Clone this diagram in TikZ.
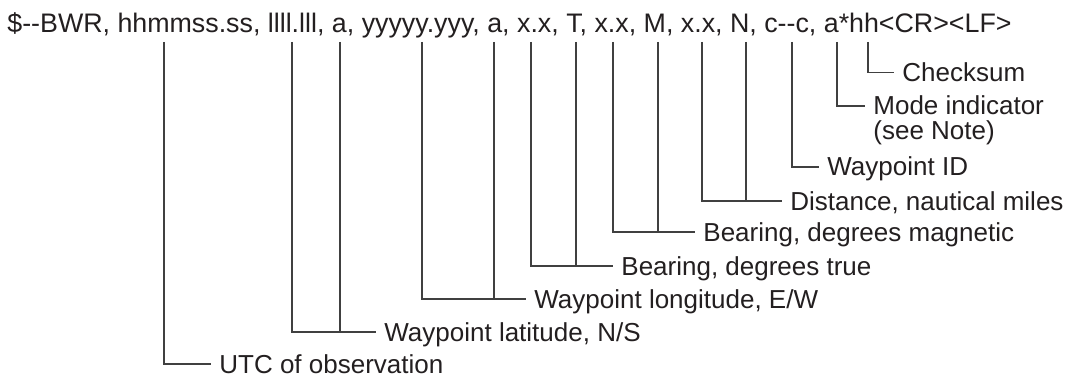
\documentclass[tikz,border=0pt]{standalone}
\usepackage{fontspec}
\setmainfont{Liberation Sans}
\definecolor{leadGray}{RGB}{64,64,64}
\definecolor{inkBlack}{RGB}{35,31,32}
\newcommand{\dbl}{-\kern0pt-}

\begin{document}
\begin{tikzpicture}[x=0.5pt,y=-0.5pt,
  hdr/.style={anchor=base west,inner sep=0pt,font=\fontsize{13.4}{16}\selectfont,text=inkBlack},
  lbl/.style={anchor=base west,inner xsep=4pt,inner ysep=0pt,font=\fontsize{13}{12.5}\selectfont,
              text=inkBlack,align=left},
  lead/.style={draw=leadGray,line width=0.6pt}
]
  \useasboundingbox (0,0) rectangle (1074,379);

  \node[hdr](Sentence) at (7,32.5)
      {\$\dbl BWR, hhmmss.ss, llll.lll, a, yyyyy.yyy, a, x.x, T, x.x, M, x.x, N, c\dbl c, a*hh<CR><LF>};

  % tap points under the fields
  \foreach \n/\x in {UTC/164,LatV/292,LatH/340,LonV/422,LonH/494,BrtV/531,BrtT/576,
                     BrmV/613,BrmM/658,DstV/702,DstN/746,WptC/792,ModA/837,ChkH/868}
    {\coordinate (\n) at (\x,42);}

  % ── field labels ──
  \node[lbl](Chk)  at (894,81.5) {Checksum};
  \node[lbl](Mode) at (865,140)  {Mode indicator\\(see Note)};
  \node[lbl](Wpt)  at (819,176)  {Waypoint ID};
  \node[lbl](Dist) at (782,210)  {Distance, nautical miles};
  \node[lbl](BrgM) at (695,241)  {Bearing, degrees magnetic};
  \node[lbl](BrgT) at (613,275)  {Bearing, degrees true};
  \node[lbl](Lon)  at (526,308)  {Waypoint longitude, E/W};
  \node[lbl](Lat)  at (376,341)  {Waypoint latitude, N/S};
  \node[lbl](Utc)  at (211,373)  {UTC of observation};

  % ── leaders ──
  \draw[lead](ChkH)|-([yshift=4.5pt]Chk.base west);
  \draw[lead](ModA)|-([yshift=17pt]Mode.base west);
  \draw[lead](WptC)|-([yshift=4.5pt]Wpt.base west);
  \draw[lead](DstV)|-([yshift=4.5pt]Dist.base west) (DstN)|-([yshift=4.5pt]Dist.base west);
  \draw[lead](BrmV)|-([yshift=4.5pt]BrgM.base west) (BrmM)|-([yshift=4.5pt]BrgM.base west);
  \draw[lead](BrtV)|-([yshift=4.5pt]BrgT.base west) (BrtT)|-([yshift=4.5pt]BrgT.base west);
  \draw[lead](LonV)|-([yshift=4.5pt]Lon.base west) (LonH)|-([yshift=4.5pt]Lon.base west);
  \draw[lead](LatV)|-([yshift=4.5pt]Lat.base west) (LatH)|-([yshift=4.5pt]Lat.base west);
  \draw[lead](UTC)|-([yshift=4.5pt]Utc.base west);
\end{tikzpicture}
\end{document}
